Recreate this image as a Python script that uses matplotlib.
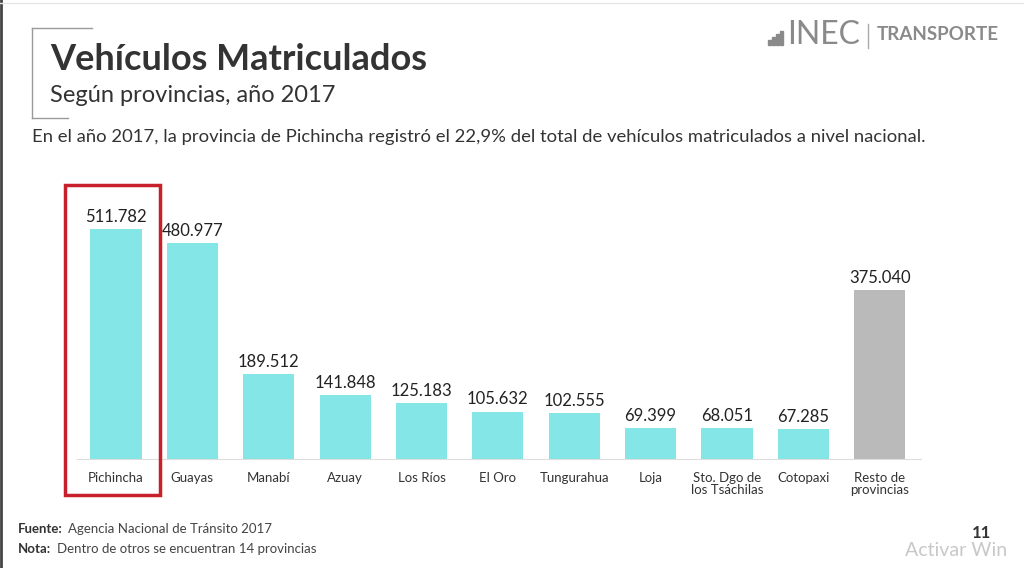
import matplotlib
matplotlib.use('Agg')
import matplotlib.pyplot as plt
from matplotlib.patches import Rectangle
from matplotlib.lines import Line2D

provincias = ['Pichincha', 'Guayas', 'Manabí', 'Azuay', 'Los Ríos', 'El Oro',
              'Tungurahua', 'Loja', 'Sto. Dgo de\nlos Tsáchilas', 'Cotopaxi',
              'Resto de\nprovincias']
vehiculos = [511782, 480977, 189512, 141848, 125183, 105632, 102555,
             69399, 68051, 67285, 375040]
colores = ['#84e6e6'] * 10 + ['#bababa']

plt.rcParams['font.family'] = ['Lato', 'DejaVu Sans']

fig = plt.figure(figsize=(10.24, 5.68), dpi=100)
fig.patch.set_facecolor('white')

ax = fig.add_axes([77 / 1024, 109 / 568, 844 / 1024, 259 / 568])
x = range(len(provincias))
ax.bar(x, vehiculos, width=0.67, color=colores, zorder=2)
ax.set_xlim(-0.51, 10.54)
ax.set_ylim(0, 511782 * 259 / 230)
for i, v in enumerate(vehiculos):
    ax.text(i, v + 9000, f'{v:,}'.replace(',', '.'), ha='center', va='bottom',
            fontsize=12, color='#222222')
ax.set_xticks(list(x))
ax.set_xticklabels(provincias, fontsize=9.5, color='#333333', linespacing=1.1)
ax.tick_params(axis='x', length=0, pad=9)
ax.set_yticks([])
for s in ['top', 'right', 'left']:
    ax.spines[s].set_visible(False)
ax.spines['bottom'].set_color('#dddddd')
ax.patch.set_alpha(0)

# red highlight box around Pichincha
fig.patches.append(Rectangle((65 / 1024, 1 - 495 / 568), 95 / 1024, 310 / 568,
                             transform=fig.transFigure, fill=False,
                             edgecolor='#c8202a', linewidth=2.5))

# title bracket
gris = '#9a9a9a'
fig.lines.append(Line2D([32 / 1024, 32 / 1024], [1 - 28 / 568, 1 - 118 / 568],
                        transform=fig.transFigure, color=gris, lw=1))
fig.lines.append(Line2D([32 / 1024, 92 / 1024], [1 - 28 / 568, 1 - 28 / 568],
                        transform=fig.transFigure, color=gris, lw=1))
fig.lines.append(Line2D([32 / 1024, 68 / 1024], [1 - 118 / 568, 1 - 118 / 568],
                        transform=fig.transFigure, color=gris, lw=1))

fig.text(50 / 1024, 1 - 59 / 568, 'Vehículos Matriculados', fontsize=26,
         fontweight='bold', color='#333333', va='center')
fig.text(50 / 1024, 1 - 96 / 568, 'Según provincias, año 2017', fontsize=17,
         color='#333333', va='center')
fig.text(32 / 1024, 1 - 137 / 568,
         'En el año 2017, la provincia de Pichincha registró el 22,9% del total '
         'de vehículos matriculados a nivel nacional.',
         fontsize=13.3, color='#333333', va='center')

# logo
for k, h in enumerate([5, 8, 11, 14]):
    fig.patches.append(Rectangle(((768 + k * 4) / 1024, 1 - 45 / 568), 2.5 / 1024,
                                 h / 568, transform=fig.transFigure,
                                 color='#8a8a8a'))
fig.text(787 / 1024, 1 - 35 / 568, 'INEC', fontsize=23, color='#8a8a8a',
         va='center')
fig.lines.append(Line2D([868 / 1024, 868 / 1024], [1 - 24 / 568, 1 - 48 / 568],
                        transform=fig.transFigure, color='#aaaaaa', lw=1))
fig.text(877 / 1024, 1 - 35 / 568, 'TRANSPORTE', fontsize=13.5, fontweight='bold',
         color='#8a8a8a', va='center')

# footer
fig.text(18 / 1024, 1 - 529 / 568, 'Fuente:', fontsize=9.5, fontweight='bold',
         color='#333333', va='center')
fig.text(68 / 1024, 1 - 529 / 568, 'Agencia Nacional de Tránsito 2017',
         fontsize=9.5, color='#444444', va='center')
fig.text(18 / 1024, 1 - 549 / 568, 'Nota:', fontsize=9.5, fontweight='bold',
         color='#333333', va='center')
fig.text(57 / 1024, 1 - 549 / 568, 'Dentro de otros se encuentran 14 provincias',
         fontsize=9.5, color='#444444', va='center')
fig.text(905 / 1024, 1 - 551 / 568, 'Activar Win', fontsize=14,
         color='#c8c8c8', va='center')
fig.text(972 / 1024, 1 - 533 / 568, '11', fontsize=12, fontweight='bold',
         color='#333333', va='center')

# frame lines
fig.lines.append(Line2D([0.001, 0.001], [0, 1], transform=fig.transFigure,
                        color='#444444', lw=2))
fig.lines.append(Line2D([0, 1], [1 - 3 / 568, 1 - 3 / 568],
                        transform=fig.transFigure, color='#e6e6e6', lw=1))

fig.savefig('out.png', dpi=100, facecolor=fig.get_facecolor())
